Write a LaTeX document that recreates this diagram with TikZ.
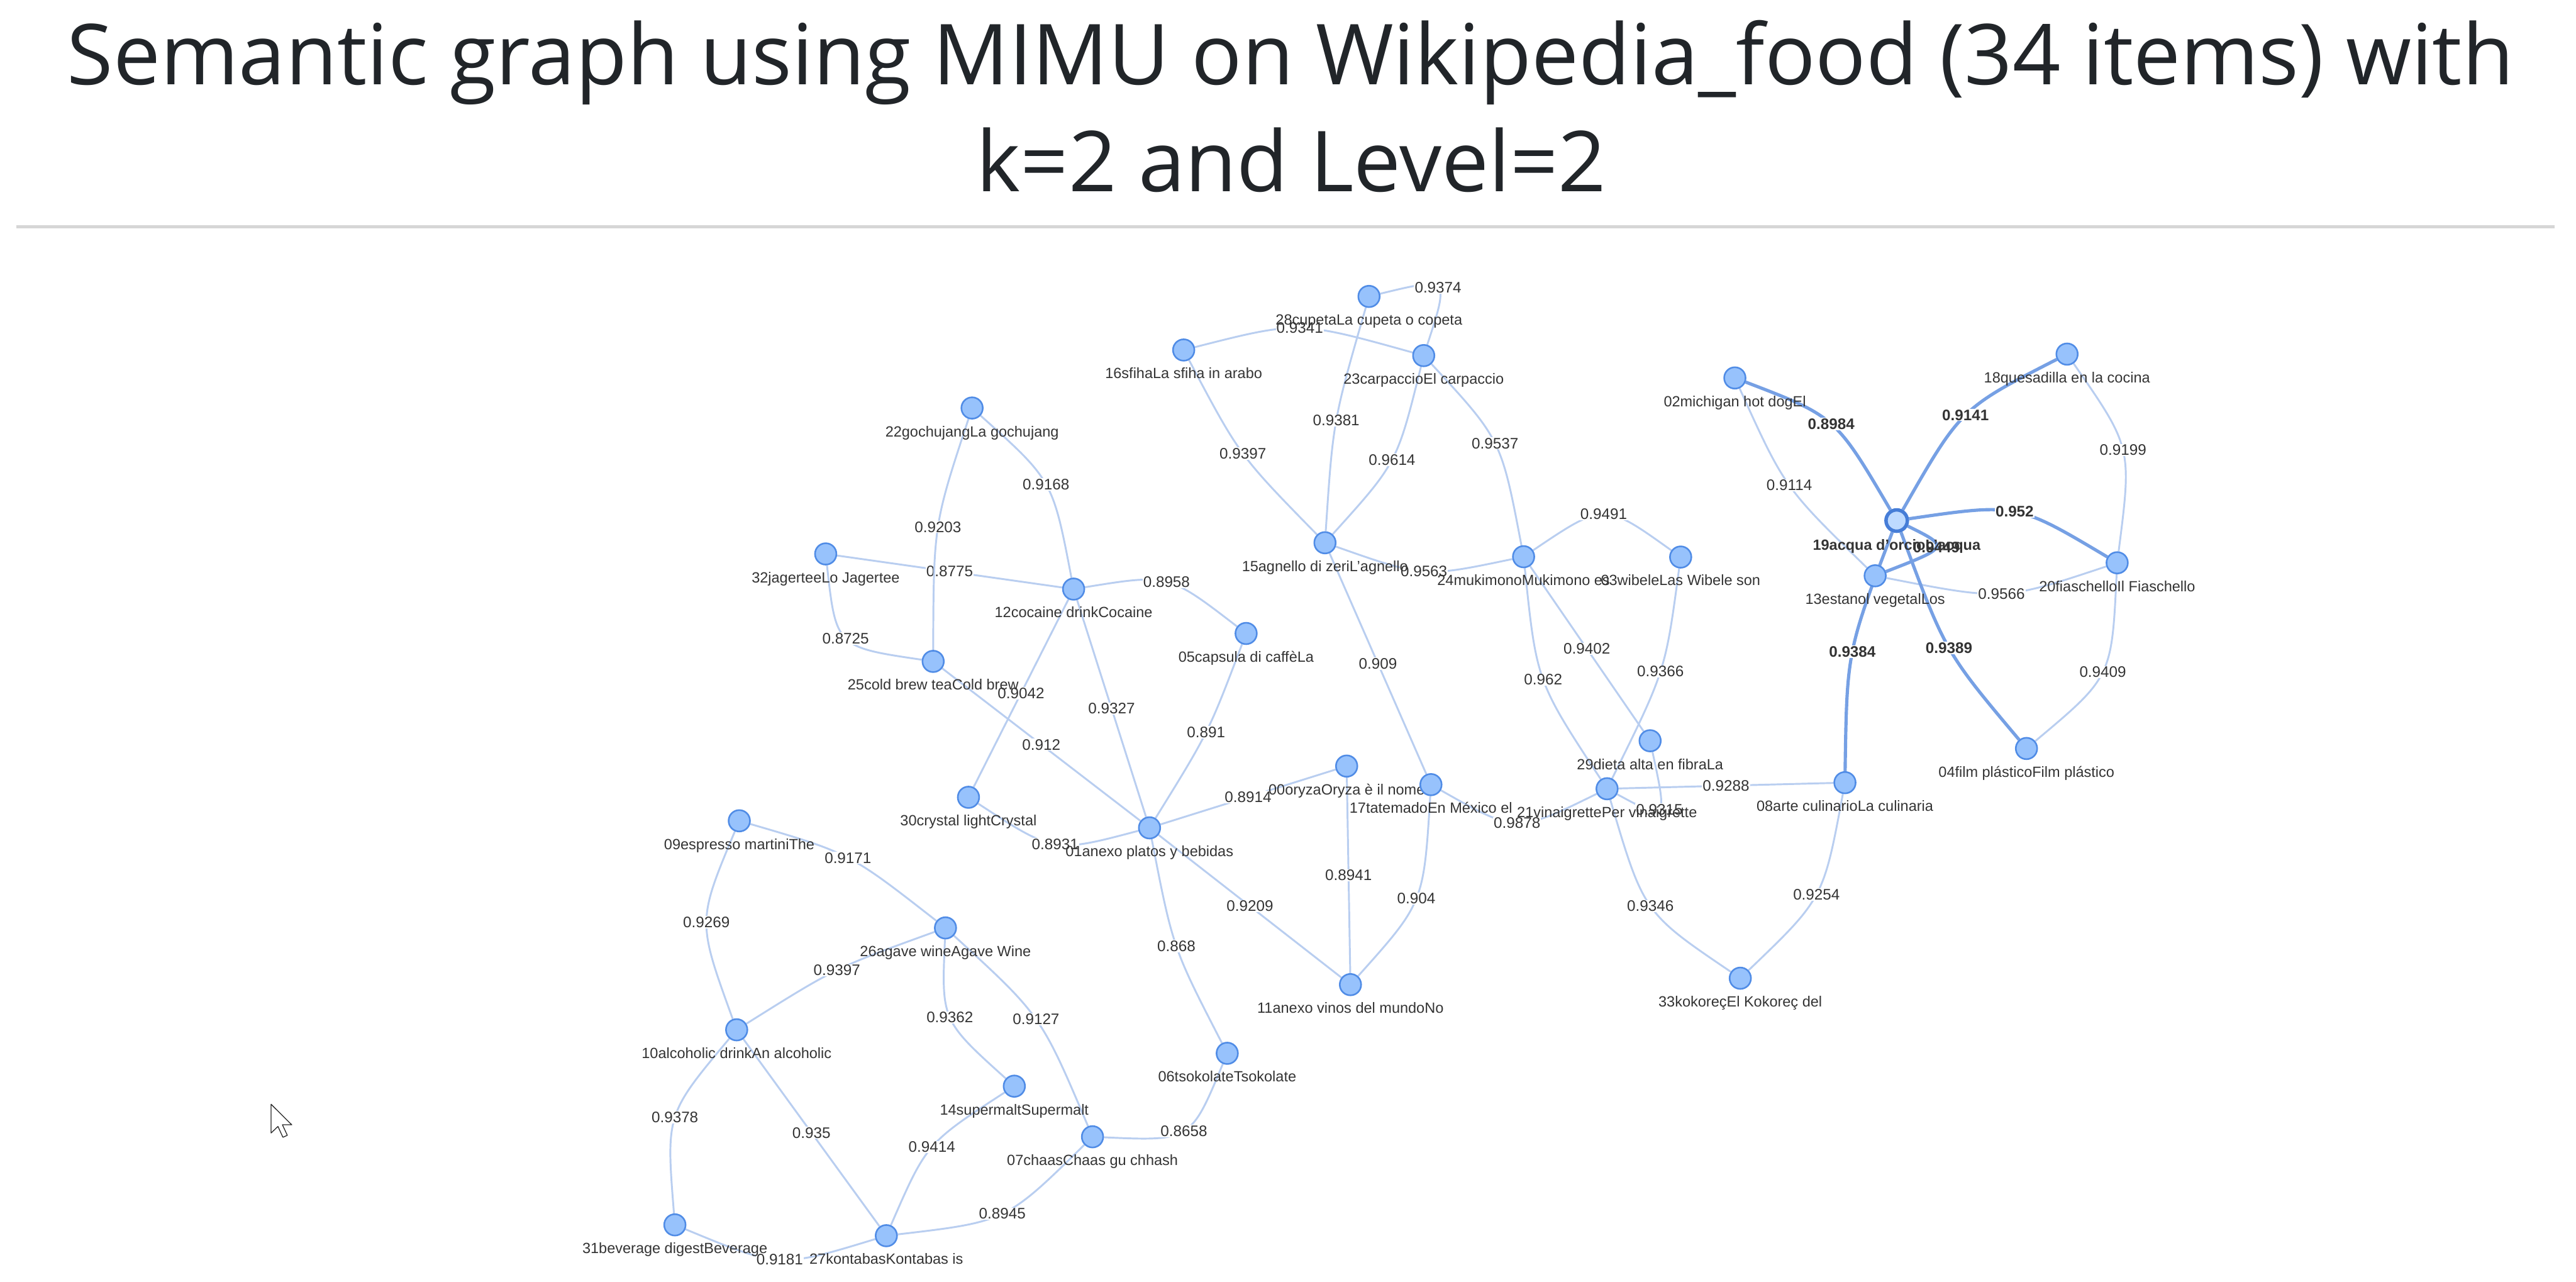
\documentclass[tikz,border=0pt]{standalone}
\usepackage{fontspec}
\setmainfont{Liberation Sans}
\newfontfamily\titlefont{Open Sans}
\usetikzlibrary{backgrounds}
\definecolor{nodefill}{RGB}{151,194,252}
\definecolor{nodeborder}{RGB}{80,140,230}
\definecolor{selfill}{RGB}{190,218,255}
\definecolor{selborder}{RGB}{70,125,215}
\definecolor{edgecolor}{RGB}{185,206,240}
\definecolor{hedgecolor}{RGB}{118,160,228}
\definecolor{labelcolor}{RGB}{52,52,52}
\definecolor{titlecolor}{RGB}{33,37,41}
\definecolor{rulecolor}{RGB}{214,214,214}
\begin{document}
\begin{tikzpicture}[
        x=0.025cm, y=-0.025cm,
        item/.style={circle, draw=nodeborder, line width=0.7pt, fill=nodefill, minimum size=0.325cm, inner sep=0pt, label distance=0.14cm},
        selitem/.style={item, draw=selborder, line width=1.5pt, fill=selfill},
        nlabel/.style={font=\fontsize{6.4}{7}\selectfont, text=labelcolor, inner sep=0pt, text height=0.72em, text depth=0.2em},
        blabel/.style={nlabel, font=\fontsize{6.4}{7}\selectfont\bfseries},
        edge/.style={draw=edgecolor, line width=0.8pt},
        hedge/.style={draw=hedgecolor, line width=1.4pt},
        wlabel/.style={font=\fontsize{6.6}{7}\selectfont, text=labelcolor, fill=white, inner sep=0.3pt, midway},
        hwlabel/.style={wlabel, font=\fontsize{6.6}{7}\selectfont\bfseries, text=black!80},
        title/.style={font=\titlefont\fontsize{36.4}{43}\selectfont, text=titlecolor, anchor=base, inner sep=0pt},
        rule/.style={draw=rulecolor, line width=0.05cm},
        cursor/.style={fill=white, draw=black!85, line width=0.35pt, line join=round}
    ]
        \useasboundingbox (0,0) rectangle (1568,780);

        % title
        \node[title] (titleA) at (785.5,51.4) {Semantic graph using MIMU on Wikipedia\_food (34 items) with};
        \node[title] (titleB) at (786,116.4) {k=2 and Level=2};
        \draw[rule] (10,138) -- (1555,138);

        % items
        \node[item, label={[nlabel]below:00oryzaOryza è il nome}] (oryza) at (819.7,466.2) {};
        \node[item, label={[nlabel]below:01anexo platos y bebidas}] (anexoplatos) at (699.7,503.8) {};
        \node[item, label={[nlabel]below:02michigan hot dogEl}] (michigan) at (1056,230) {};
        \node[item, label={[nlabel]below:03wibeleLas Wibele son}] (wibele) at (1023,339) {};
        \node[item, label={[nlabel]below:04film plásticoFilm plástico}] (film) at (1233.5,455.5) {};
        \node[item, label={[nlabel]below:05capsula di caffèLa}] (capsula) at (758.5,385.5) {};
        \node[item, label={[nlabel]below:06tsokolateTsokolate}] (tsokolate) at (747,641) {};
        \node[item, label={[nlabel]below:07chaasChaas gu chhash}] (chaas) at (665,691.8) {};
        \node[item, label={[nlabel]below:08arte culinarioLa culinaria}] (arte) at (1123,476.3) {};
        \node[item, label={[nlabel]below:09espresso martiniThe}] (espresso) at (450,499.5) {};
        \node[item, label={[nlabel]below:10alcoholic drinkAn alcoholic}] (alcoholic) at (448.4,626.7) {};
        \node[item, label={[nlabel]below:11anexo vinos del mundoNo}] (anexovinos) at (822,599.2) {};
        \node[item, label={[nlabel]below:12cocaine drinkCocaine}] (cocaine) at (653.5,358.5) {};
        \node[item, label={[nlabel]below:13estanol vegetalLos}] (estanol) at (1141.4,350.4) {};
        \node[item, label={[nlabel]below:14supermaltSupermalt}] (supermalt) at (617.4,661) {};
        \node[item, label={[nlabel]below:15agnello di zeriL'agnello}] (agnello) at (806.5,330.3) {};
        \node[item, label={[nlabel]below:16sfihaLa sfiha in arabo}] (sfiha) at (720.5,213) {};
        \node[item, label={[nlabel]below:17tatemadoEn México el}] (tatemado) at (871,477.5) {};
        \node[item, label={[nlabel]below:18quesadilla en la cocina}] (quesadilla) at (1258.2,215.5) {};
        \node[selitem, label={[blabel]below:19acqua d'orcioL'acqua}] (acqua) at (1154.5,316.8) {};
        \node[item, label={[nlabel]below:20fiaschelloIl Fiaschello}] (fiaschello) at (1288.7,342.5) {};
        \node[item, label={[nlabel]below:21vinaigrettePer vinaigrette}] (vinaigrette) at (978.2,480) {};
        \node[item, label={[nlabel]below:22gochujangLa gochujang}] (gochujang) at (591.7,248.3) {};
        \node[item, label={[nlabel]below:23carpaccioEl carpaccio}] (carpaccio) at (866.6,216.4) {};
        \node[item, label={[nlabel]below:24mukimonoMukimono es}] (mukimono) at (927.4,338.8) {};
        \node[item, label={[nlabel]below:25cold brew teaCold brew}] (coldbrew) at (568,402.5) {};
        \node[item, label={[nlabel]below:26agave wineAgave Wine}] (agave) at (575.5,564.7) {};
        \node[item, label={[nlabel]below:27kontabasKontabas is}] (kontabas) at (539.5,752) {};
        \node[item, label={[nlabel]below:28cupetaLa cupeta o copeta}] (cupeta) at (833.3,180.4) {};
        \node[item, label={[nlabel]below:29dieta alta en fibraLa}] (dieta) at (1004.4,450.8) {};
        \node[item, label={[nlabel]below:30crystal lightCrystal}] (crystal) at (589.5,485.2) {};
        \node[item, label={[nlabel]below:31beverage digestBeverage}] (beverage) at (410.8,745.4) {};
        \node[item, label={[nlabel]below:32jagerteeLo Jagertee}] (jagertee) at (502.6,337.1) {};
        \node[item, label={[nlabel]below:33kokoreçEl Kokoreç del}] (kokorec) at (1059.3,595.3) {};

        % mouse pointer
        \draw[cursor] (165,672) -- ++(0,17.5) -- ++(4.2,-4) -- ++(3,6.6) -- ++(2.7,-1.2) -- ++(-3,-6.4) -- ++(5.7,0) -- cycle;

        \begin{scope}[on background layer]
        \fill[white] (0,0) rectangle (1568,780);
        % similarity edges
        \draw[edge] (cupeta) .. controls (882.3,168.5) .. (carpaccio) node[wlabel] {0.9374};
        \draw[edge] (sfiha) .. controls (790.4,195.2) .. (carpaccio) node[wlabel] {0.9341};
        \draw[edge] (cupeta) .. controls (811.4,256.2) .. (agnello) node[wlabel] {0.9381};
        \draw[edge] (sfiha) .. controls (754.5,277.2) .. (agnello) node[wlabel] {0.9397};
        \draw[edge] (carpaccio) .. controls (850.4,281.7) .. (agnello) node[wlabel] {0.9614};
        \draw[edge] (carpaccio) .. controls (913.8,267.5) .. (mukimono) node[wlabel] {0.9537};
        \draw[edge] (agnello) .. controls (866.7,351.5) .. (mukimono) node[wlabel] {0.9563};
        \draw[edge] (mukimono) .. controls (976.5,305.7) .. (wibele) node[wlabel] {0.9491};
        \draw[edge] (mukimono) .. controls (935.3,414.7) .. (vinaigrette) node[wlabel] {0.962};
        \draw[edge] (mukimono) -- (dieta) node[wlabel] {0.9402};
        \draw[edge] (wibele) .. controls (1013.7,408.3) .. (vinaigrette) node[wlabel] {0.9366};
        \draw[edge] (dieta) .. controls (1015,500) .. (vinaigrette) node[wlabel] {0.9315};
        \draw[edge] (vinaigrette) -- (arte) node[wlabel] {0.9288};
        \draw[edge] (vinaigrette) .. controls (1000.5,555.5) .. (kokorec) node[wlabel] {0.9346};
        \draw[edge] (arte) .. controls (1109.9,546.8) .. (kokorec) node[wlabel] {0.9254};
        \draw[edge] (tatemado) .. controls (923.1,507.1) .. (vinaigrette) node[wlabel] {0.9878};
        \draw[edge] (agnello) -- (tatemado) node[wlabel] {0.909};
        \draw[edge] (tatemado) .. controls (866.6,549.4) .. (anexovinos) node[wlabel] {0.904};
        \draw[edge] (oryza) -- (anexovinos) node[wlabel] {0.8941};
        \draw[edge] (anexoplatos) -- (oryza) node[wlabel] {0.8914};
        \draw[edge] (anexoplatos) -- (anexovinos) node[wlabel] {0.9209};
        \draw[edge] (anexoplatos) .. controls (713.9,576.8) .. (tsokolate) node[wlabel] {0.868};
        \draw[edge] (anexoplatos) .. controls (735.6,445.8) .. (capsula) node[wlabel] {0.891};
        \draw[edge] (cocaine) -- (anexoplatos) node[wlabel] {0.9327};
        \draw[edge] (anexoplatos) -- (coldbrew) node[wlabel] {0.912};
        \draw[edge] (anexoplatos) .. controls (641.6,519.2) .. (crystal) node[wlabel] {0.8931};
        \draw[edge] (cocaine) -- (crystal) node[wlabel] {0.9042};
        \draw[edge] (cocaine) .. controls (711.2,349.1) .. (capsula) node[wlabel] {0.8958};
        \draw[edge] (cocaine) .. controls (640.8,292.3) .. (gochujang) node[wlabel] {0.9168};
        \draw[edge] (cocaine) -- (jagertee) node[wlabel] {0.8775};
        \draw[edge] (gochujang) .. controls (568.3,319.2) .. (coldbrew) node[wlabel] {0.9203};
        \draw[edge] (jagertee) .. controls (508.9,393.8) .. (coldbrew) node[wlabel] {0.8725};
        \draw[edge] (espresso) .. controls (517.1,519.1) .. (agave) node[wlabel] {0.9171};
        \draw[edge] (espresso) .. controls (424.4,560.6) .. (alcoholic) node[wlabel] {0.9269};
        \draw[edge] (agave) .. controls (508.7,588.9) .. (alcoholic) node[wlabel] {0.9397};
        \draw[edge] (agave) .. controls (573,621) .. (supermalt) node[wlabel] {0.9362};
        \draw[edge] (agave) .. controls (633.7,618) .. (chaas) node[wlabel] {0.9127};
        \draw[edge] (alcoholic) .. controls (405.4,678) .. (beverage) node[wlabel] {0.9378};
        \draw[edge] (alcoholic) -- (kontabas) node[wlabel] {0.935};
        \draw[edge] (supermalt) .. controls (564,695.7) .. (kontabas) node[wlabel] {0.9414};
        \draw[edge] (beverage) .. controls (474.5,771.8) .. (kontabas) node[wlabel] {0.9181};
        \draw[edge] (kontabas) .. controls (612.4,743.5) .. (chaas) node[wlabel] {0.8945};
        \draw[edge] (chaas) .. controls (724.8,694.5) .. (tsokolate) node[wlabel] {0.8658};
        \draw[edge] (michigan) .. controls (1086.3,296.8) .. (estanol) node[wlabel] {0.9114};
        \draw[edge] (quesadilla) .. controls (1297.7,272.3) .. (fiaschello) node[wlabel] {0.9199};
        \draw[edge] (estanol) .. controls (1219.3,365.6) .. (fiaschello) node[wlabel] {0.9566};
        \draw[edge] (fiaschello) .. controls (1285.4,412) .. (film) node[wlabel] {0.9409};
        % edges of the selected item
        \draw[hedge] (michigan) .. controls (1117.3,253.5) .. (acqua) node[hwlabel] {0.8984};
        \draw[hedge] (acqua) .. controls (1193.5,248.6) .. (quesadilla) node[hwlabel] {0.9141};
        \draw[hedge] (acqua) .. controls (1227.6,306.1) .. (fiaschello) node[hwlabel] {0.952};
        \draw[hedge] (acqua) .. controls (1124.2,396.5) .. (arte) node[hwlabel] {0.9384};
        \draw[hedge] (acqua) .. controls (1184.1,396.8) .. (film) node[hwlabel] {0.9389};
        \draw[hedge] (acqua) .. controls (1186.7,332.8) .. (estanol) node[hwlabel, fill=none] {0.9449};
        \end{scope}
    \end{tikzpicture}
\end{document}
